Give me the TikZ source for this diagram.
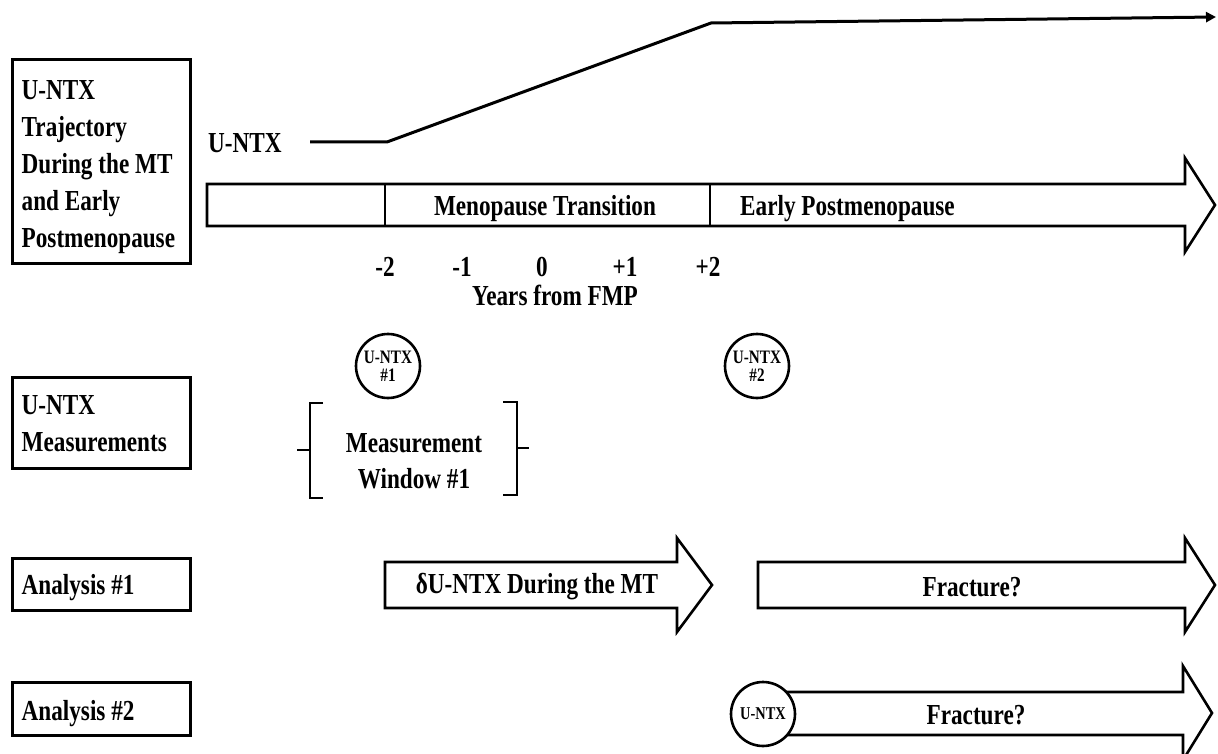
\documentclass[tikz,border=0pt]{standalone}
\usepackage{fontspec}
\setmainfont{Liberation Serif}[FakeStretch=0.8]
\usepackage{tikz}
\usetikzlibrary{positioning}
\usetikzlibrary{arrows.meta}

\tikzset{
  lbl/.style={font=\fontsize{29}{36}\selectfont\bfseries, inner sep=0pt},
  rowbox/.style={draw, line width=3pt, minimum width=178pt, inner sep=0pt},
  boxtext/.style={align=left, inner sep=0pt, anchor=west, xshift=11pt,
    font=\fontsize{29}{37}\selectfont\bfseries},
  blockarrow/.style={draw, line width=2.6pt, line join=miter},
  marker/.style={draw, circle, line width=2.6pt, minimum size=64pt, inner sep=0pt,
    align=center, fill=white, font=\fontsize{19}{19}\selectfont\bfseries},
  bracket/.style={draw, line width=2.6pt},
}

\begin{document}
\begin{tikzpicture}[x=1pt,y=-1pt]
\useasboundingbox (0,0) rectangle (1218,754);

\node[rowbox, minimum height=203pt] (traj) at (101,161.5) {};
\node[boxtext] (trajtext) at ([yshift=-6pt]traj.west)
  {U-NTX\\Trajectory\\During the MT\\and Early\\Postmenopause};
\node[rowbox, minimum height=91pt] (meas) at (101,422.5) {};
\node[boxtext] (meastext) at ([yshift=-1pt]meas.west) {U-NTX\\Measurements};
\node[rowbox, minimum height=52pt] (ana1) at (101,584) {};
\node[boxtext] (ana1text) at ([yshift=-4pt]ana1.west) {Analysis \#1};
\node[rowbox, minimum height=53pt] (ana2) at (101,708.5) {};
\node[boxtext] (ana2text) at ([yshift=-5pt]ana2.west) {Analysis \#2};

\node[lbl, anchor=base west] (level) at (208,153) {U-NTX};
\coordinate (lowstart) at (310,142);
\coordinate (risestart) at (387,142);
\coordinate (riseend) at (711,23);
\coordinate (highend) at (1216,17);
\draw[line width=3pt, -{Triangle[length=10pt,width=10pt]}]
  (lowstart) -- (risestart) -- (riseend) -- (highend);

\draw[blockarrow] (207,184) -- (1185,184) -- (1185,158) -- (1215,205)
  -- (1185,252) -- (1185,226) -- (207,226) -- cycle;
\draw[blockarrow] (385,184) -- (385,226);
\draw[blockarrow] (710,184) -- (710,226);
\node[lbl, anchor=base] (mt) at (545,215) {Menopause Transition};
\node[lbl, anchor=base west] (epm) at (740,215) {Early Postmenopause};

\foreach \x/\t/\n in {385/-2/tm2, 462/-1/tm1, 542/0/t0, 625/+1/tp1, 708/+2/tp2}
  \node[lbl, anchor=base] (\n) at (\x,276) {\t};
\node[lbl, anchor=base] (years) at (555,305) {Years from FMP};

\node[marker] (m1) at (388,366) {U-NTX\\[-1pt]\#1};
\node[marker] (m2) at (757,366) {U-NTX\\[-1pt]\#2};

\draw[bracket] (323,403) -- (310,403) -- (310,498) -- (323,498);
\draw[bracket] (310,450) -- (297,450);
\draw[bracket] (503,402) -- (517,402) -- (517,495) -- (503,495);
\draw[bracket] (517,448) -- (529,448);
\node[lbl, align=center] (window) at (414,461) {Measurement\\Window \#1};

\draw[blockarrow] (385,562) -- (677,562) -- (677,538) -- (712,585)
  -- (677,632) -- (677,608) -- (385,608) -- cycle;
\node[lbl] (delta) at (537,587) {δU-NTX During the MT};

\draw[blockarrow] (758,562) -- (1185,562) -- (1185,538) -- (1215,585)
  -- (1185,632) -- (1185,608) -- (758,608) -- cycle;
\node[lbl] (frac1) at (972,587) {Fracture?};

\draw[blockarrow] (786,692) -- (1183,692) -- (1183,666) -- (1212,713)
  -- (1183,760) -- (1183,735) -- (786,735);
\node[marker, font=\fontsize{18}{18}\selectfont\bfseries] (m3) at (763,714) {U-NTX};
\node[lbl] (frac2) at (976,715) {Fracture?};
\end{tikzpicture}
\end{document}
